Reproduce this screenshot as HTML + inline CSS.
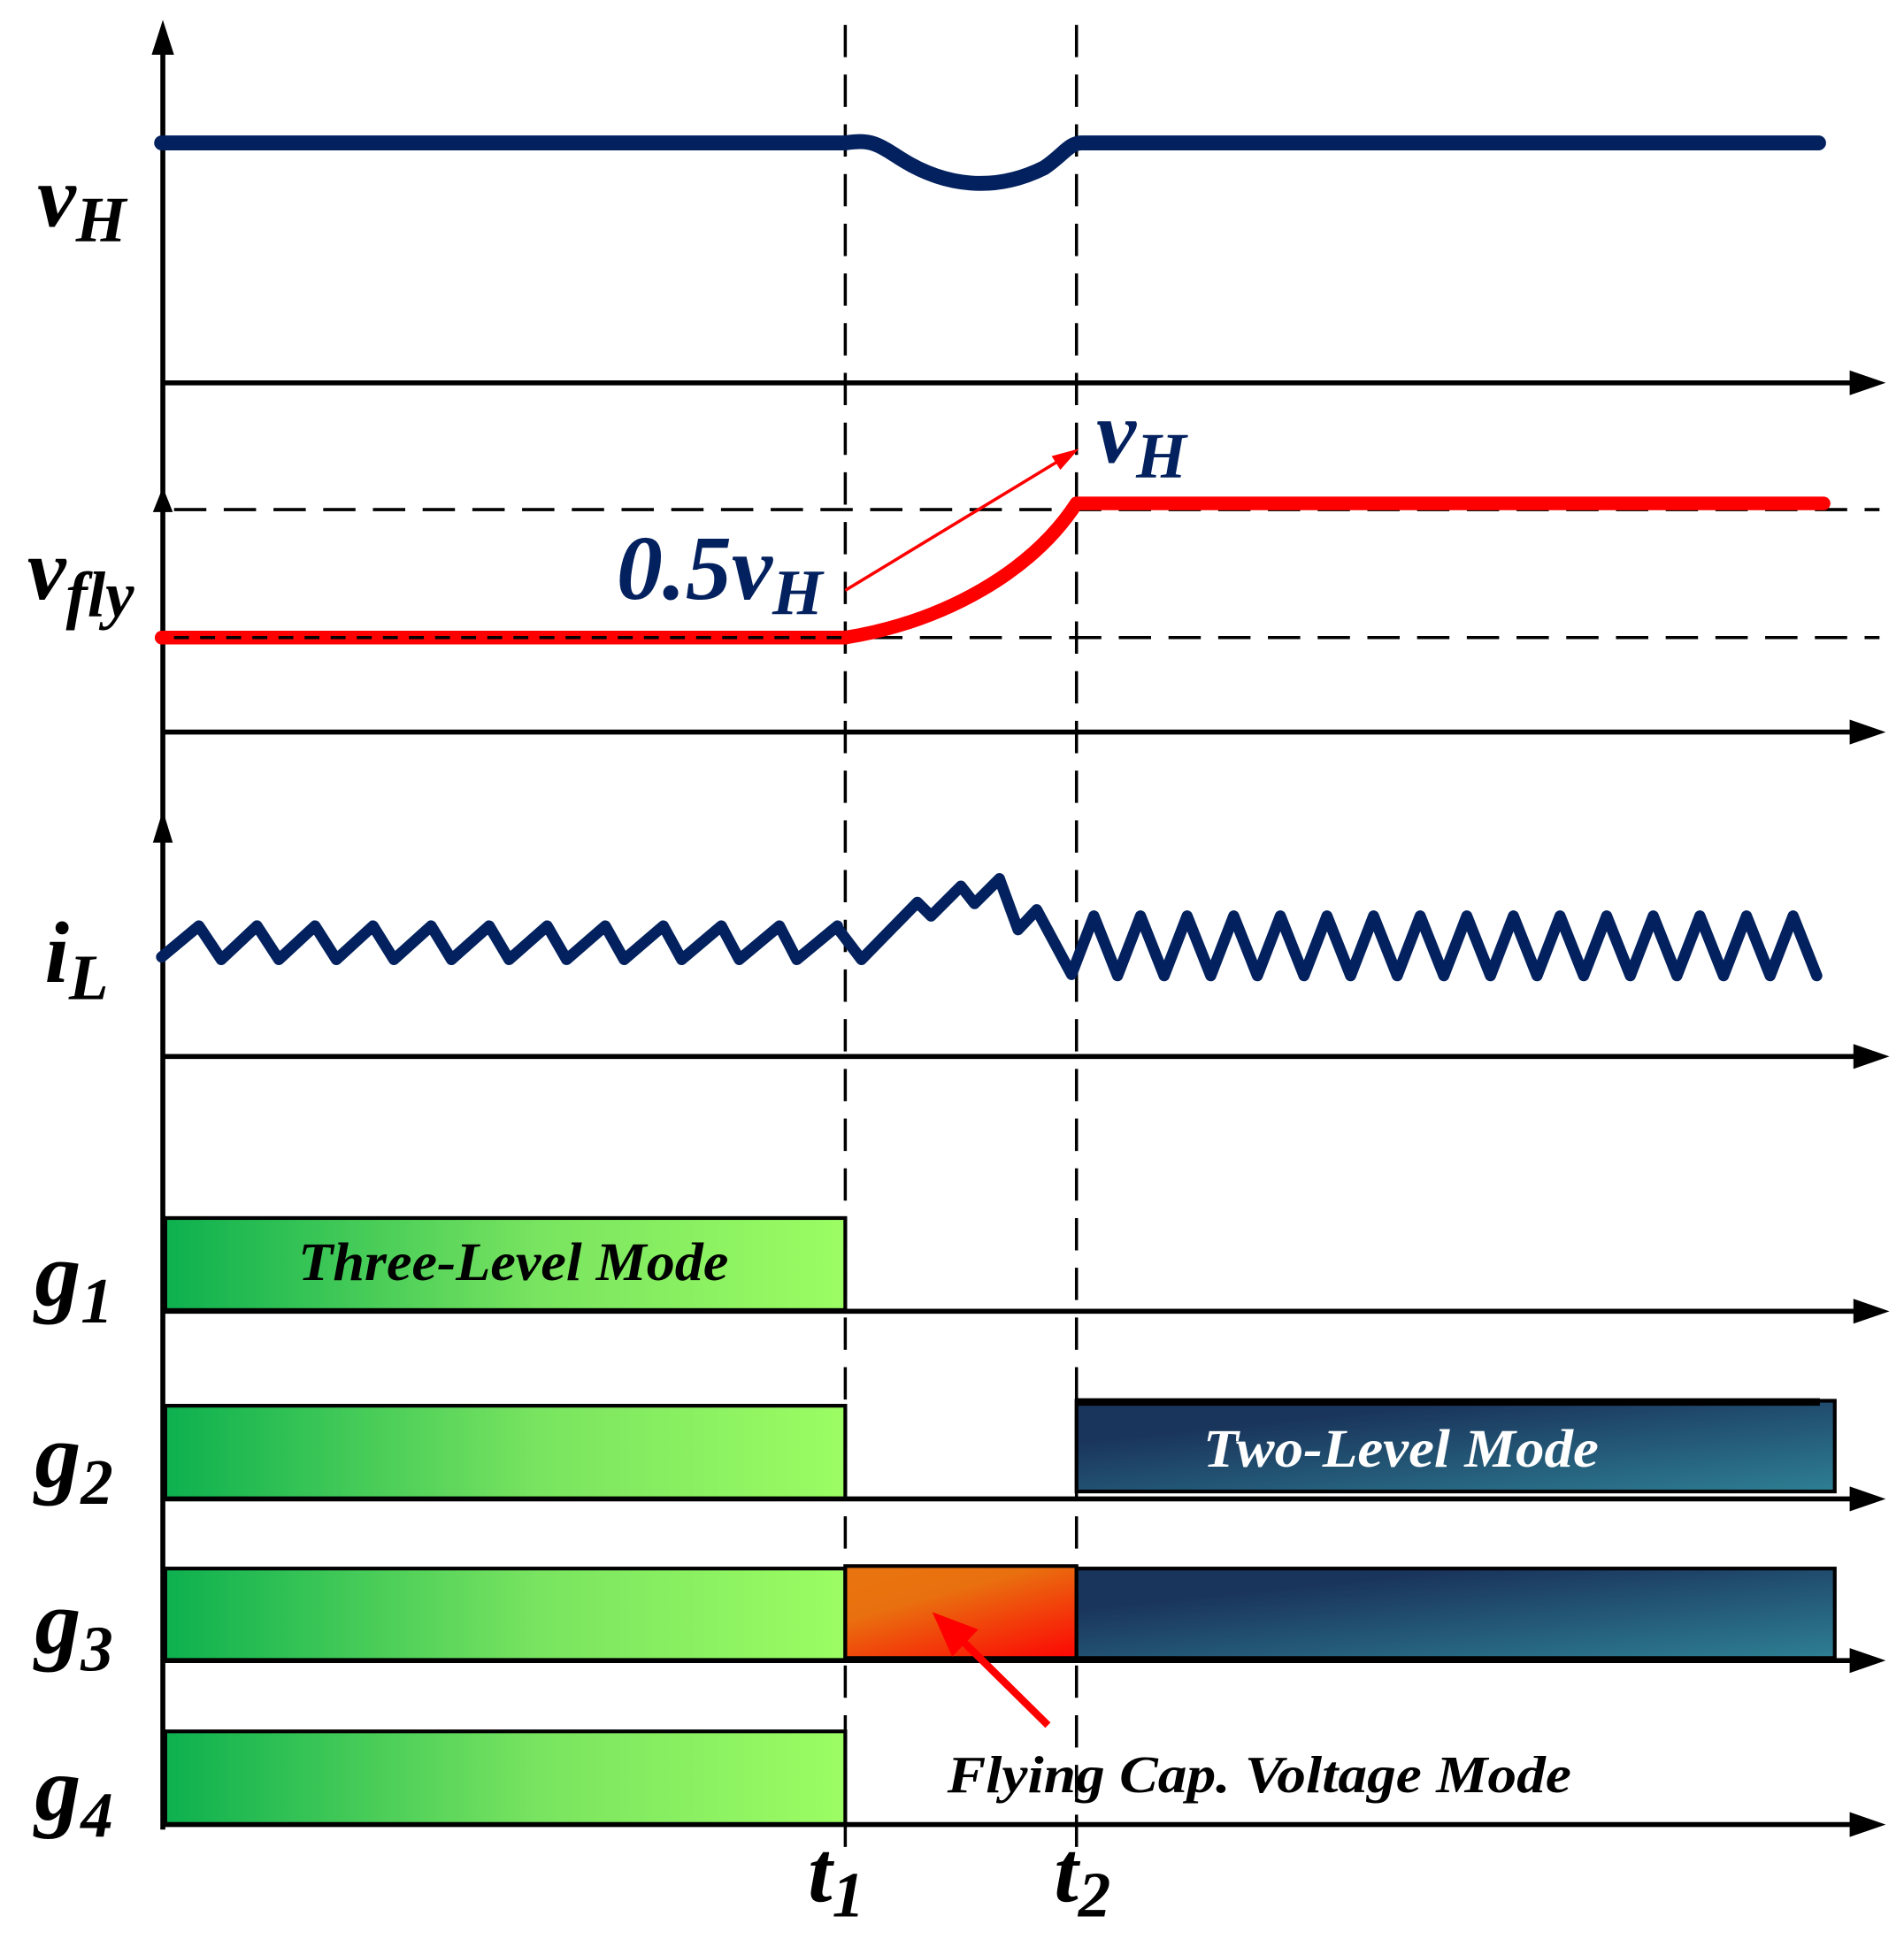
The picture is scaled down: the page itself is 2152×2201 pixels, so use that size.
<!DOCTYPE html>
<html><head><meta charset="utf-8"><style>html,body{margin:0;padding:0;background:#fff}svg{display:block}</style></head>
<body>
<svg width="2152" height="2201" viewBox="0 0 1531.7 1566.5" preserveAspectRatio="none" xmlns="http://www.w3.org/2000/svg">
<defs>
<linearGradient id="gr" x1="0" x2="1" y1="0" y2="0"><stop offset="0" stop-color="#0db04f"/><stop offset="0.55" stop-color="#79e460"/><stop offset="1" stop-color="#9cfd63"/></linearGradient>
<linearGradient id="nv" x1="0.3" y1="0.2" x2="1" y2="1"><stop offset="0" stop-color="#1a355c"/><stop offset="1" stop-color="#2e7f93"/></linearGradient>
<linearGradient id="or" x1="0.2" y1="0" x2="0.9" y2="1"><stop offset="0" stop-color="#e9740f"/><stop offset="0.3" stop-color="#e9700f"/><stop offset="1" stop-color="#fb0c05"/></linearGradient>
</defs>
<g font-family="Liberation Serif, serif" font-weight="bold" font-style="italic">
<g stroke="#000" stroke-width="3">
<rect x="133" y="980" width="547" height="74" fill="url(#gr)"/>
<rect x="133" y="1131" width="547" height="75" fill="url(#gr)"/>
<rect x="133" y="1262" width="547" height="74" fill="url(#gr)"/>
<rect x="133" y="1393" width="547" height="75" fill="url(#gr)"/>
<rect x="680" y="1260" width="186" height="74" fill="url(#or)"/>
<rect x="866" y="1262" width="610" height="72" fill="url(#nv)"/>
<rect x="866" y="1127" width="610" height="73" fill="url(#nv)"/>
</g>
<line x1="866" y1="1128" x2="1464" y2="1128" stroke="#000" stroke-width="6"/>
<text x="240" y="1030" font-size="44" fill="#000" textLength="346" lengthAdjust="spacingAndGlyphs">Three-Level Mode</text>
<text x="968" y="1180" font-size="44" fill="#fff" textLength="318" lengthAdjust="spacingAndGlyphs">Two-Level Mode</text>
<text x="762" y="1442" font-size="42" fill="#000" textLength="502" lengthAdjust="spacingAndGlyphs">Flying Cap. Voltage Mode</text>
<g stroke="#000" stroke-width="2.5" stroke-dasharray="26,14" fill="none">
<line x1="680" y1="20" x2="680" y2="1490"/>
<line x1="866" y1="20" x2="866" y2="1490"/>
<line x1="140" y1="410" x2="1512" y2="410"/>
<line x1="140" y1="513" x2="1512" y2="513"/>
</g>
<g stroke="#000" stroke-width="4" fill="none">
<line x1="131" y1="1472" x2="131" y2="30"/>
<line x1="131" y1="308" x2="1500" y2="308"/>
<line x1="131" y1="589" x2="1500" y2="589"/>
<line x1="131" y1="850" x2="1500" y2="850"/>
<line x1="131" y1="1055" x2="1500" y2="1055"/>
<line x1="131" y1="1206" x2="1500" y2="1206"/>
<line x1="131" y1="1336" x2="1500" y2="1336"/>
<line x1="131" y1="1468" x2="1500" y2="1468"/>
</g>
<g fill="#000">
<path d="M131,16 L122,44 L140,44 Z"/>
<path d="M131,392 L123,412 L139,412 Z"/>
<path d="M131,652 L123,678 L139,678 Z"/>
<path d="M1517,308 L1488,298 L1488,318 Z"/>
<path d="M1517,589 L1488,579 L1488,599 Z"/>
<path d="M1520,850 L1491,840 L1491,860 Z"/>
<path d="M1520,1055 L1491,1045 L1491,1065 Z"/>
<path d="M1517,1206 L1488,1196 L1488,1216 Z"/>
<path d="M1517,1336 L1488,1326 L1488,1346 Z"/>
<path d="M1517,1468 L1488,1458 L1488,1478 Z"/>
</g>
<path d="M130,115 L680,115 C700,112 705,115 725,128 C760,150 800,155 840,135 C855,125 860,115 870,115 L1463,115" stroke="#03215e" stroke-width="12" fill="none" stroke-linecap="round"/>
<path d="M130,513 L680,513" stroke="#f00" stroke-width="11" fill="none" stroke-linecap="round"/>
<path d="M680,513 C760,500 830,460 866,405" stroke="#f00" stroke-width="11" fill="none" stroke-linecap="round"/>
<path d="M866,405 L1467,405" stroke="#f00" stroke-width="11" fill="none" stroke-linecap="round"/>
<line x1="140" y1="513" x2="680" y2="513" stroke="#000" stroke-width="2.5" stroke-dasharray="12,9"/>
<line x1="680" y1="475" x2="858" y2="367" stroke="#f00" stroke-width="2.5"/>
<path d="M868,361 L846,367 L853,378 Z" fill="#f00"/>
<path id="il" d="" stroke="#03215e" stroke-width="9" fill="none" stroke-linejoin="round" stroke-linecap="round"/>
<line x1="843" y1="1388" x2="770" y2="1316" stroke="#f00" stroke-width="6"/>
<path d="M750,1297 L787,1311 L766,1333 Z" fill="#f00"/>
<g fill="#000">
<text x="30" y="182" font-size="70">v<tspan font-size="52" dy="12">H</tspan></text>
<text x="22" y="482" font-size="70">v<tspan font-size="52" dy="14">fly</tspan></text>
<text x="36" y="790" font-size="70">i<tspan font-size="52" dy="14">L</tspan></text>
<text x="28" y="1050" font-size="74">g<tspan font-size="52" dy="14">1</tspan></text>
<text x="28" y="1196" font-size="74">g<tspan font-size="52" dy="14">2</tspan></text>
<text x="28" y="1330" font-size="74">g<tspan font-size="52" dy="14">3</tspan></text>
<text x="28" y="1464" font-size="74">g<tspan font-size="52" dy="14">4</tspan></text>
<text x="650" y="1530" font-size="70">t<tspan font-size="52" dy="12">1</tspan></text>
<text x="848" y="1530" font-size="70">t<tspan font-size="52" dy="12">2</tspan></text>
</g>
<g fill="#03215e">
<text x="496" y="482" font-size="74">0.5v<tspan font-size="52" dy="12">H</tspan></text>
<text x="882" y="372" font-size="72">v<tspan font-size="52" dy="12">H</tspan></text>
</g>
</g>
<script>
(function(){
var p=[[130,770]];
for(var k=0;k<12;k++){p.push([160+46.7*k,745]);p.push([178+46.3*k,772]);}
p.pop();
p.push([674,747],[693,772],[738,726],[749,737],[773,713],[784,727],[804,707],[819,748],[834,732],[862,784]);
for(var k=0;k<16;k++){p.push([880+37.5*k,737]);p.push([899+37.5*k,785]);}
var d="M"+p.map(function(q){return q[0].toFixed(1)+","+q[1];}).join(" L");
document.getElementById("il").setAttribute("d",d);
})();
</script>
</svg>
</body></html>
